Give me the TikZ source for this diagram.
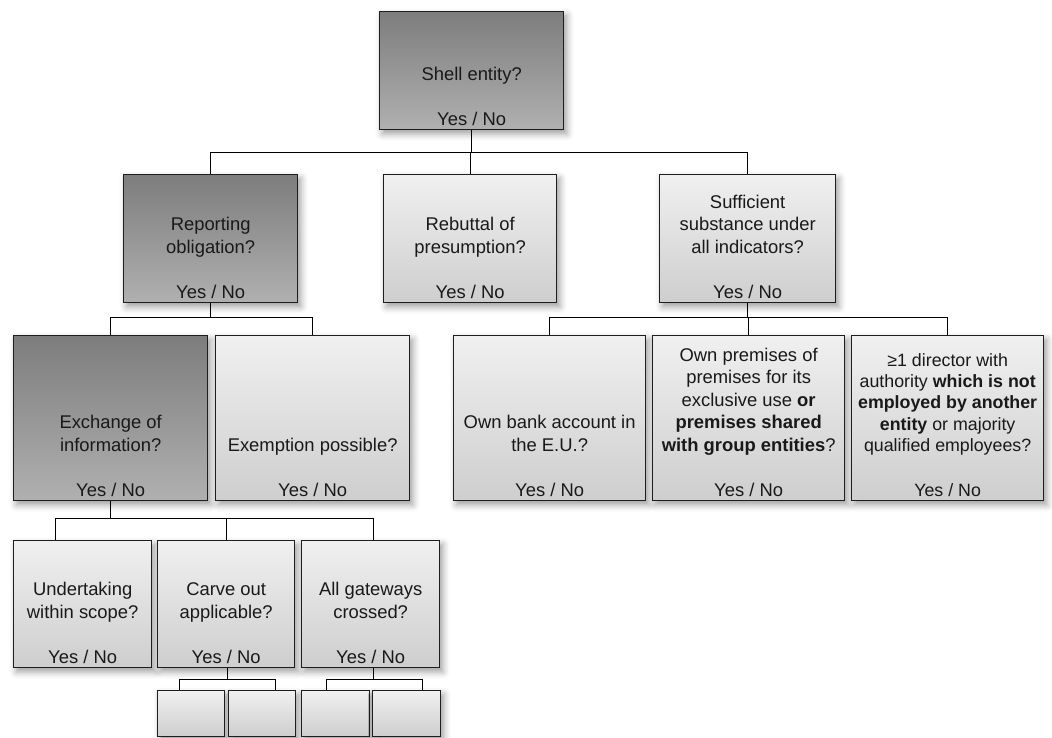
\documentclass[tikz,border=0pt]{standalone}
\usepackage{fontspec}
\setmainfont{Liberation Sans}
\usetikzlibrary{shadows.blur}
\definecolor{edge}{RGB}{30,30,30}
\definecolor{darktop}{RGB}{125,125,125}
\definecolor{darkbot}{RGB}{176,176,176}
\definecolor{lighttop}{RGB}{240,240,240}
\definecolor{lightbot}{RGB}{206,206,206}
\definecolor{ink}{RGB}{25,25,25}
\begin{document}
\begin{tikzpicture}[x=1pt,y=-1pt,
  box/.style={draw=edge, line width=1.3pt, rectangle, inner sep=0pt, anchor=north west,
    blur shadow={shadow xshift=3pt, shadow yshift=-4pt, shadow blur radius=7pt, shadow opacity=40}},
  darkbox/.style={box, top color=darktop, bottom color=darkbot},
  lightbox/.style={box, top color=lighttop, bottom color=lightbot},
  txt/.style={inner sep=0pt, anchor=south, align=center, text=ink, font=\fontsize{18.4}{22.5}\selectfont},
  smalltxt/.style={txt, font=\fontsize{17.8}{21.3}\selectfont},
  conn/.style={draw=black, line width=1.2pt},
]
\useasboundingbox (0,0) rectangle (1052,737);

% boxes
\node[darkbox, minimum width=184pt, minimum height=118pt] (shell) at (379,11) {};
\node[darkbox, minimum width=174pt, minimum height=128pt] (rep) at (123,174) {};
\node[lightbox, minimum width=173pt, minimum height=128pt] (reb) at (383,174) {};
\node[lightbox, minimum width=176pt, minimum height=128pt] (suf) at (659,174) {};
\node[darkbox, minimum width=194pt, minimum height=165pt] (exch) at (13,335) {};
\node[lightbox, minimum width=194pt, minimum height=165pt] (exem) at (215,335) {};
\node[lightbox, minimum width=192pt, minimum height=165pt] (bank) at (453,335) {};
\node[lightbox, minimum width=192pt, minimum height=165pt] (prem) at (652,335) {};
\node[lightbox, minimum width=192pt, minimum height=165pt] (dir) at (851,335) {};
\node[lightbox, minimum width=138pt, minimum height=127pt] (und) at (13,540) {};
\node[lightbox, minimum width=137pt, minimum height=127pt] (carve) at (157,540) {};
\node[lightbox, minimum width=138pt, minimum height=127pt] (gate) at (301,540) {};
\node[lightbox, minimum width=67pt, minimum height=46pt] (s1) at (157,690) {};
\node[lightbox, minimum width=67pt, minimum height=46pt] (s2) at (228,690) {};
\node[lightbox, minimum width=68pt, minimum height=46pt] (s3) at (301,690) {};
\node[lightbox, minimum width=68pt, minimum height=46pt] (s4) at (372,690) {};

% texts
\node[txt] (shell-t) at ([yshift=-1.75pt]shell.south) {Shell entity?\\[22.5pt]Yes / No\strut};
\node[txt] (rep-t) at ([yshift=-1.75pt]rep.south) {Reporting\\obligation?\\[22.5pt]Yes / No\strut};
\node[txt] (reb-t) at ([yshift=-1.75pt]reb.south) {Rebuttal of\\presumption?\\[22.5pt]Yes / No\strut};
\node[txt] (suf-t) at ([yshift=-1.75pt]suf.south) {Sufficient\\substance under\\all indicators?\\[22.5pt]Yes / No\strut};
\node[txt] (exch-t) at ([yshift=-1.75pt]exch.south) {Exchange of\\information?\\[22.5pt]Yes / No\strut};
\node[txt] (exem-t) at ([yshift=-1.75pt]exem.south) {Exemption possible?\\[22.5pt]Yes / No\strut};
\node[txt] (bank-t) at ([yshift=-1.75pt]bank.south) {Own bank account in\\the E.U.?\\[22.5pt]Yes / No\strut};
\node[txt] (prem-t) at ([yshift=-1.75pt]prem.south) {Own premises of\\premises for its\\exclusive use \textbf{or}\\\textbf{premises shared}\\\textbf{with group entities}?\\[22.5pt]Yes / No\strut};
\node[smalltxt] (dir-t) at ([yshift=-1.6pt]dir.south) {≥1 director with\\authority \textbf{which is not}\\\textbf{employed by another}\\\textbf{entity} or majority\\qualified employees?\\[23.7pt]Yes / No\strut};
\node[txt] (und-t) at ([yshift=-1.75pt]und.south) {Undertaking\\within scope?\\[22.5pt]Yes / No\strut};
\node[txt] (carve-t) at ([yshift=-1.75pt]carve.south) {Carve out\\applicable?\\[22.5pt]Yes / No\strut};
\node[txt] (gate-t) at ([yshift=-1.75pt]gate.south) {All gateways\\crossed?\\[22.5pt]Yes / No\strut};

% connectors
\draw[conn] (shell.south) -- ++(0,22) -| (rep.north);
\draw[conn] (shell.south) -- ++(0,22) -| (reb.north);
\draw[conn] (shell.south) -- ++(0,22) -| (suf.north);

\draw[conn] (rep.south) -- ++(0,14) -| (exch.north);
\draw[conn] (rep.south) -- ++(0,14) -| (exem.north);

\draw[conn] (suf.south) -- ++(0,14) -| (bank.north);
\draw[conn] (suf.south) -- ++(0,14) -| (prem.north);
\draw[conn] (suf.south) -- ++(0,14) -| (dir.north);

\draw[conn] (exch.south) -- ++(0,17) -| ([xshift=-27pt]und.north);
\draw[conn] (exch.south) -- ++(0,17) -| (carve.north);
\draw[conn] (exch.south) -- ++(0,17) -| ([xshift=3pt]gate.north);

\draw[conn] ([xshift=1pt]carve.south) -- ++(0,11) -| ([xshift=-11.5pt]s1.north);
\draw[conn] ([xshift=1pt]carve.south) -- ++(0,11) -| ([xshift=13.5pt]s2.north);

\draw[conn] ([xshift=3pt]gate.south) -- ++(0,11) -| ([xshift=-9pt]s3.north);
\draw[conn] ([xshift=3pt]gate.south) -- ++(0,11) -| ([xshift=16pt]s4.north);
\end{tikzpicture}
\end{document}
